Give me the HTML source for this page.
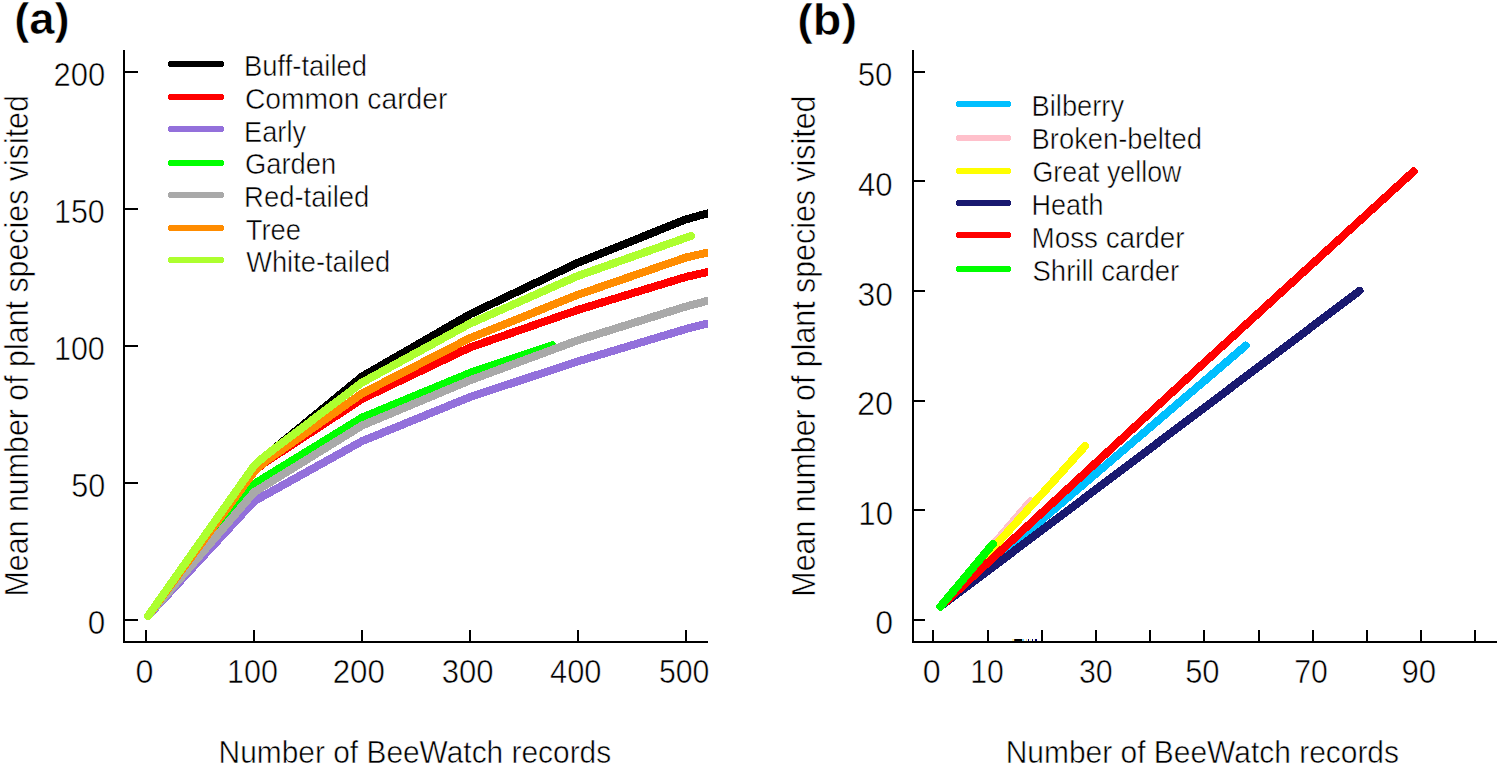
<!DOCTYPE html>
<html><head><meta charset="utf-8"><style>
html,body{margin:0;padding:0;background:#fff;}
svg{display:block;}
text{font-family:"Liberation Sans",sans-serif;stroke:#fff;stroke-width:0.5px;paint-order:fill;}
</style></head><body>
<svg width="1499" height="766" viewBox="0 0 1499 766">
<defs>
<clipPath id="ca"><rect x="123" y="50" width="585" height="592"/></clipPath>
<clipPath id="cb"><rect x="912" y="50" width="585" height="592"/></clipPath>
</defs>
<rect width="1499" height="766" fill="#fff"/>
<g fill="none" stroke-width="8" stroke-linecap="round" stroke-linejoin="round" shape-rendering="crispEdges">
<polyline points="147.98,616.08 254.24,466.06 265.03,456.20 362.12,376.46 470.00,314.26 577.88,262.75 685.76,219.46 707.34,213.43" stroke="#000000" clip-path="url(#ca)"/>
<polyline points="147.98,616.08 254.24,470.99 265.03,462.50 362.12,398.93 470.00,347.42 577.88,309.88 685.76,277.00 707.34,272.07" stroke="#ff0000" clip-path="url(#ca)"/>
<polyline points="147.98,616.08 254.24,501.13 362.12,441.13 470.00,397.01 577.88,361.39 685.76,329.06 707.34,323.58" stroke="#9370db" clip-path="url(#ca)"/>
<polyline points="147.98,616.08 254.24,483.87 362.12,417.56 470.00,372.90 552.20,345.23" stroke="#00ff00" clip-path="url(#ca)"/>
<polyline points="147.98,616.08 254.24,492.09 362.12,425.51 470.00,380.30 577.88,340.29 685.76,306.59 707.34,300.84" stroke="#a9a9a9" clip-path="url(#ca)"/>
<polyline points="147.98,616.08 254.24,471.54 265.03,461.68 362.12,393.45 470.00,338.10 577.88,294.81 685.76,257.55 707.34,252.61" stroke="#ff8c00" clip-path="url(#ca)"/>
<polyline points="147.98,616.08 254.24,465.51 265.03,455.92 362.12,382.49 470.00,323.58 577.88,275.90 685.76,237.82 690.94,235.90" stroke="#adff2f" clip-path="url(#ca)"/>
<polyline points="940.45,606.55 1245.59,345.70" stroke="#00bfff" clip-path="url(#cb)"/>
<polyline points="940.45,606.55 1030.42,501.33" stroke="#ffc0cb" clip-path="url(#cb)"/>
<polyline points="940.45,606.55 1085.16,445.98" stroke="#ffff00" clip-path="url(#cb)"/>
<polyline points="940.45,606.55 1359.41,290.90" stroke="#191970" clip-path="url(#cb)"/>
<polyline points="940.45,606.55 1200.61,365.98 1413.61,171.44" stroke="#ff0000" clip-path="url(#cb)"/>
<polyline points="940.45,606.55 992.75,544.08" stroke="#00ff00" clip-path="url(#cb)"/>
</g>
<g shape-rendering="crispEdges">
<line x1="124.00" y1="50.00" x2="124.00" y2="643.00" stroke="#000" stroke-width="2"/>
<line x1="123.00" y1="642.00" x2="708.00" y2="642.00" stroke="#000" stroke-width="2"/>
<line x1="124.00" y1="619.50" x2="138.00" y2="619.50" stroke="#000" stroke-width="2"/>
<line x1="124.00" y1="482.50" x2="138.00" y2="482.50" stroke="#000" stroke-width="2"/>
<line x1="124.00" y1="345.50" x2="138.00" y2="345.50" stroke="#000" stroke-width="2"/>
<line x1="124.00" y1="208.50" x2="138.00" y2="208.50" stroke="#000" stroke-width="2"/>
<line x1="124.00" y1="71.50" x2="138.00" y2="71.50" stroke="#000" stroke-width="2"/>
<line x1="146.36" y1="630.00" x2="146.36" y2="642.00" stroke="#000" stroke-width="2"/>
<line x1="254.24" y1="630.00" x2="254.24" y2="642.00" stroke="#000" stroke-width="2"/>
<line x1="362.12" y1="630.00" x2="362.12" y2="642.00" stroke="#000" stroke-width="2"/>
<line x1="470.00" y1="630.00" x2="470.00" y2="642.00" stroke="#000" stroke-width="2"/>
<line x1="577.88" y1="630.00" x2="577.88" y2="642.00" stroke="#000" stroke-width="2"/>
<line x1="685.76" y1="630.00" x2="685.76" y2="642.00" stroke="#000" stroke-width="2"/>
<line x1="913.00" y1="50.00" x2="913.00" y2="643.00" stroke="#000" stroke-width="2"/>
<line x1="912.00" y1="642.00" x2="1497.00" y2="642.00" stroke="#000" stroke-width="2"/>
<line x1="913.00" y1="619.70" x2="925.00" y2="619.70" stroke="#000" stroke-width="2"/>
<line x1="913.00" y1="510.10" x2="925.00" y2="510.10" stroke="#000" stroke-width="2"/>
<line x1="913.00" y1="400.50" x2="925.00" y2="400.50" stroke="#000" stroke-width="2"/>
<line x1="913.00" y1="290.90" x2="925.00" y2="290.90" stroke="#000" stroke-width="2"/>
<line x1="913.00" y1="181.30" x2="925.00" y2="181.30" stroke="#000" stroke-width="2"/>
<line x1="913.00" y1="71.70" x2="925.00" y2="71.70" stroke="#000" stroke-width="2"/>
<line x1="933.40" y1="630.00" x2="933.40" y2="642.00" stroke="#000" stroke-width="2"/>
<line x1="987.60" y1="630.00" x2="987.60" y2="642.00" stroke="#000" stroke-width="2"/>
<line x1="1041.80" y1="630.00" x2="1041.80" y2="642.00" stroke="#000" stroke-width="2"/>
<line x1="1096.00" y1="630.00" x2="1096.00" y2="642.00" stroke="#000" stroke-width="2"/>
<line x1="1150.20" y1="630.00" x2="1150.20" y2="642.00" stroke="#000" stroke-width="2"/>
<line x1="1204.40" y1="630.00" x2="1204.40" y2="642.00" stroke="#000" stroke-width="2"/>
<line x1="1258.60" y1="630.00" x2="1258.60" y2="642.00" stroke="#000" stroke-width="2"/>
<line x1="1312.80" y1="630.00" x2="1312.80" y2="642.00" stroke="#000" stroke-width="2"/>
<line x1="1367.00" y1="630.00" x2="1367.00" y2="642.00" stroke="#000" stroke-width="2"/>
<line x1="1421.20" y1="630.00" x2="1421.20" y2="642.00" stroke="#000" stroke-width="2"/>
<line x1="1475.40" y1="630.00" x2="1475.40" y2="642.00" stroke="#000" stroke-width="2"/>
</g>
<g shape-rendering="crispEdges">
<line x1="171" y1="64" x2="221" y2="64" stroke="#000000" stroke-width="6" stroke-linecap="round"/>
<line x1="171" y1="97" x2="221" y2="97" stroke="#ff0000" stroke-width="6" stroke-linecap="round"/>
<line x1="171" y1="129" x2="221" y2="129" stroke="#9370db" stroke-width="6" stroke-linecap="round"/>
<line x1="171" y1="163" x2="221" y2="163" stroke="#00ff00" stroke-width="6" stroke-linecap="round"/>
<line x1="171" y1="195" x2="221" y2="195" stroke="#a9a9a9" stroke-width="6" stroke-linecap="round"/>
<line x1="171" y1="228" x2="221" y2="228" stroke="#ff8c00" stroke-width="6" stroke-linecap="round"/>
<line x1="171" y1="260" x2="221" y2="260" stroke="#adff2f" stroke-width="6" stroke-linecap="round"/>
<line x1="958.5" y1="104" x2="1008" y2="104" stroke="#00bfff" stroke-width="6" stroke-linecap="round"/>
<line x1="958.5" y1="138" x2="1008" y2="138" stroke="#ffc0cb" stroke-width="6" stroke-linecap="round"/>
<line x1="958.5" y1="171" x2="1008" y2="171" stroke="#ffff00" stroke-width="6" stroke-linecap="round"/>
<line x1="958.5" y1="203" x2="1008" y2="203" stroke="#191970" stroke-width="6" stroke-linecap="round"/>
<line x1="958.5" y1="235" x2="1008" y2="235" stroke="#ff0000" stroke-width="6" stroke-linecap="round"/>
<line x1="958.5" y1="269" x2="1008" y2="269" stroke="#00ff00" stroke-width="6" stroke-linecap="round"/>
</g>
<g shape-rendering="crispEdges"><rect x="1012" y="639" width="2" height="2" fill="#fff3a0"/><rect x="1014" y="639" width="1" height="2" fill="#6a2a10"/><rect x="1015" y="639" width="7" height="2" fill="#000"/><rect x="1022" y="639" width="2" height="2" fill="#70d0ff"/><rect x="1026" y="639" width="1" height="2" fill="#ffe48a"/><rect x="1028" y="639" width="1" height="2" fill="#000070"/><rect x="1030" y="639" width="1" height="2" fill="#fff8c0"/><rect x="1032" y="639" width="1" height="2" fill="#000070"/><rect x="1034" y="639" width="1" height="2" fill="#fff8c0"/><rect x="1035" y="639" width="2" height="2" fill="#000070"/></g>
<text transform="matrix(1.0490 0 0 1.0943 87.84 634.17)" font-size="30" font-weight="normal" fill="#000">0</text>
<text transform="matrix(1.0194 0 0 1.0943 71.28 497.17)" font-size="30" font-weight="normal" fill="#000">50</text>
<text transform="matrix(1.0150 0 0 1.0943 53.97 360.17)" font-size="30" font-weight="normal" fill="#000">100</text>
<text transform="matrix(1.0150 0 0 1.0943 53.97 223.17)" font-size="30" font-weight="normal" fill="#000">150</text>
<text transform="matrix(1.0338 0 0 1.0943 53.45 86.17)" font-size="30" font-weight="normal" fill="#000">200</text>
<text transform="matrix(1.0769 0 0 1.0849 135.41 683.07)" font-size="30" font-weight="normal" fill="#000">0</text>
<text transform="matrix(1.0172 0 0 1.0849 227.06 683.07)" font-size="30" font-weight="normal" fill="#000">100</text>
<text transform="matrix(1.0422 0 0 1.0849 332.64 683.07)" font-size="30" font-weight="normal" fill="#000">200</text>
<text transform="matrix(1.0356 0 0 1.0849 441.76 683.07)" font-size="30" font-weight="normal" fill="#000">300</text>
<text transform="matrix(1.0270 0 0 1.0849 550.03 683.07)" font-size="30" font-weight="normal" fill="#000">400</text>
<text transform="matrix(1.0084 0 0 1.0849 658.94 683.07)" font-size="30" font-weight="normal" fill="#000">500</text>
<text transform="matrix(1.0699 0 0 1.0943 875.32 634.37)" font-size="30" font-weight="normal" fill="#000">0</text>
<text transform="matrix(1.0435 0 0 1.0943 858.30 524.77)" font-size="30" font-weight="normal" fill="#000">10</text>
<text transform="matrix(1.0847 0 0 1.0943 856.97 415.17)" font-size="30" font-weight="normal" fill="#000">20</text>
<text transform="matrix(1.0613 0 0 1.0943 857.53 305.57)" font-size="30" font-weight="normal" fill="#000">30</text>
<text transform="matrix(1.0381 0 0 1.0943 857.97 195.97)" font-size="30" font-weight="normal" fill="#000">40</text>
<text transform="matrix(1.0419 0 0 1.0943 857.65 86.37)" font-size="30" font-weight="normal" fill="#000">50</text>
<text transform="matrix(1.0769 0 0 1.0849 922.71 683.07)" font-size="30" font-weight="normal" fill="#000">0</text>
<text transform="matrix(1.0067 0 0 1.0849 970.33 683.07)" font-size="30" font-weight="normal" fill="#000">10</text>
<text transform="matrix(1.0129 0 0 1.0849 1078.88 683.07)" font-size="30" font-weight="normal" fill="#000">30</text>
<text transform="matrix(1.0323 0 0 1.0849 1185.16 683.07)" font-size="30" font-weight="normal" fill="#000">50</text>
<text transform="matrix(1.0065 0 0 1.0849 1294.24 683.07)" font-size="30" font-weight="normal" fill="#000">70</text>
<text transform="matrix(1.0390 0 0 1.0849 1401.45 683.07)" font-size="30" font-weight="normal" fill="#000">90</text>
<text transform="matrix(0.9969 0 0 1.0455 218.61 763.09)" font-size="30" font-weight="normal" fill="#000">Number of BeeWatch records</text>
<text transform="matrix(0.9985 0 0 1.0455 1005.70 763.09)" font-size="30" font-weight="normal" fill="#000">Number of BeeWatch records</text>
<text transform="matrix(0 -1.0124 1.1019 0 28.00 596.43)" font-size="30" fill="#000">Mean number of plant species visited</text>
<text transform="matrix(0 -1.0122 1.1117 0 814.80 596.63)" font-size="30" fill="#000">Mean number of plant species visited</text>
<text transform="matrix(1.0807 0 0 1.0665 14.23 34.42)" font-size="42" font-weight="bold" fill="#000">(a)</text>
<text transform="matrix(1.1174 0 0 1.0563 797.15 34.61)" font-size="42" font-weight="bold" fill="#000">(b)</text>
<text transform="matrix(0.9802 0 0 1.0500 244.05 76.40)" font-size="28" fill="#000">Buff-tailed</text>
<text transform="matrix(1.0096 0 0 1.0500 244.89 109.07)" font-size="28" fill="#000">Common carder</text>
<text transform="matrix(0.9723 0 0 1.0500 244.06 141.74)" font-size="28" fill="#000">Early</text>
<text transform="matrix(0.9767 0 0 1.0500 244.93 174.41)" font-size="28" fill="#000">Garden</text>
<text transform="matrix(0.9822 0 0 1.0500 244.04 207.08)" font-size="28" fill="#000">Red-tailed</text>
<text transform="matrix(0.9781 0 0 1.0500 245.71 239.75)" font-size="28" fill="#000">Tree</text>
<text transform="matrix(0.9740 0 0 1.0500 246.20 272.42)" font-size="28" fill="#000">White-tailed</text>
<text transform="matrix(0.9751 0 0 1.0500 1031.56 115.80)" font-size="28" fill="#000">Bilberry</text>
<text transform="matrix(0.9777 0 0 1.0500 1031.55 148.90)" font-size="28" fill="#000">Broken-belted</text>
<text transform="matrix(0.9579 0 0 1.0500 1032.46 182.00)" font-size="28" fill="#000">Great yellow</text>
<text transform="matrix(0.9632 0 0 1.0500 1031.58 215.10)" font-size="28" fill="#000">Heath</text>
<text transform="matrix(0.9941 0 0 1.0500 1031.51 248.20)" font-size="28" fill="#000">Moss carder</text>
<text transform="matrix(0.9824 0 0 1.0500 1032.52 281.30)" font-size="28" fill="#000">Shrill carder</text>
</svg>
</body></html>
